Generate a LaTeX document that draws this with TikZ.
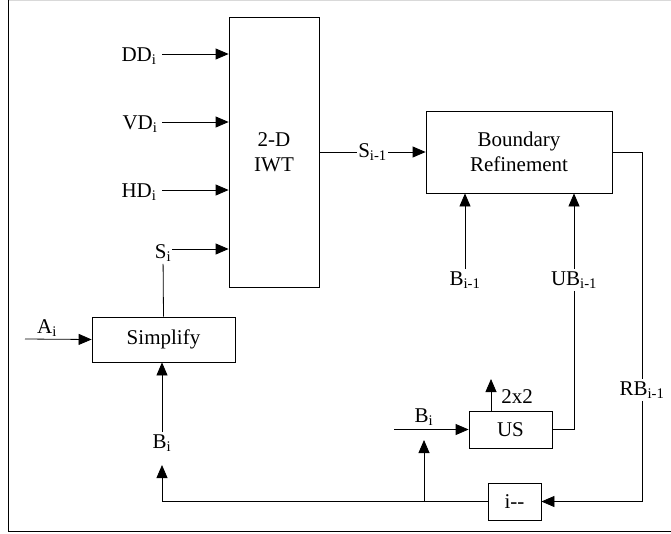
\documentclass[tikz,border=0pt]{standalone}
\usepackage{fontspec}
\setmainfont{Liberation Serif}
\usetikzlibrary{arrows.meta}
\newcommand\lsub[1]{\textsubscript{#1}}
\begin{document}
\begin{tikzpicture}[x=1pt,y=-1pt,line width=0.8pt,
  every node/.style={font=\fontsize{21}{25}\selectfont},
  box/.style={draw,line width=0.8pt,inner sep=0pt,align=center},
  lab/.style={inner sep=2pt},
  arr/.style={-{Triangle[length=13pt,width=11pt]}}]
\useasboundingbox (0,0) rectangle (671,533);
% frame
\draw[black!15] (8,0.5) -- (671,0.5);
\draw (8,0) -- (8,531) -- (671,531);
% boxes
\node[box,minimum width=90pt,minimum height=270pt] (iwt) at (274,152) {2-D\\IWT};
\node[box,minimum width=186pt,minimum height=82pt] (br) at (519,152) {Boundary\\Refinement};
\node[box,minimum width=143pt,minimum height=45pt] (simp) at (163.5,339.5) {Simplify};
\node[box,minimum width=83pt,minimum height=37pt] (us) at (510.5,429.5) {US};
\node[box,minimum width=53pt,minimum height=37pt] (dec) at (514.5,501.5) {i-{}-};
% labels
\node[lab] (dd) at (139,56) {DD\lsub{i}};
\node[lab] (vd) at (140,124) {VD\lsub{i}};
\node[lab] (hd) at (139,192) {HD\lsub{i}};
\node[lab] (si) at (163,253) {S\lsub{i}};
\node[lab] (ai) at (47,328) {A\lsub{i}};
\node[lab] (bi) at (162,443) {B\lsub{i}};
\node[lab] (bim) at (465,280) {B\lsub{i-1}};
\node[lab] (ubim) at (574,280) {UB\lsub{i-1}};
\node[lab,fill=white] (rb) at (642,390) {RB\lsub{i-1}};
\node[lab] (two) at (517,397) {2x2};
\node[lab] (bius) at (424,417) {B\lsub{i}};
% coordinates
\coordinate (cdd) at (162,54);
\coordinate (cvd) at (162,122);
\coordinate (chd) at (162,190);
\coordinate (csi) at (172,249);
\coordinate (ca) at (25,339);
\coordinate (cbi) at (394,429.5);
\coordinate (t22) at (491,379);
\coordinate (jn) at (424,501);
\coordinate (tipj) at (424,440);
\coordinate (tipb) at (162,465);
% connectors
\draw[arr] (cdd) -- (cdd -| iwt.west);
\draw[arr] (cvd) -- (cvd -| iwt.west);
\draw[arr] (chd) -- (chd -| iwt.west);
\draw[arr] (csi) -- (csi -| iwt.west);
\draw (simp.north) -- (si);
\draw[arr] (ca) -- (simp.west);
\draw[arr] (bi) -- (bi |- simp.south);
\draw[arr] (iwt.east) -- node[fill=white,inner sep=1pt] {S\lsub{i-1}} (br.west);
\draw[arr] (bim) -- (bim |- br.south);
\draw[arr] (ubim) -- (ubim |- br.south);
\draw (ubim) |- (us.east);
\draw (br.east) -| (rb.north);
\draw[arr] (rb.south) |- (dec.east);
\draw[arr] (us.north -| t22) -- (t22);
\draw[arr] (cbi) -- (us.west);
\draw[arr] (dec.west) -| (tipb);
\draw[arr] (jn) -- (tipj);
\end{tikzpicture}
\end{document}
